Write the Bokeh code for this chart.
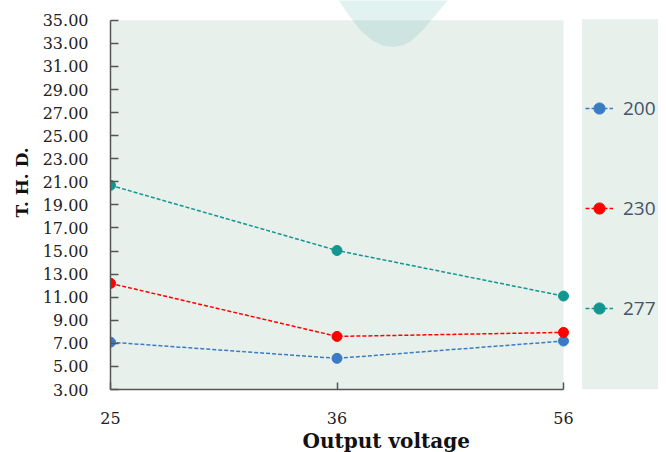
from bokeh.plotting import figure
from bokeh.models import (FixedTicker, Legend, LegendItem, Title, PolyAnnotation, BoxAnnotation,
                          Range1d, NumeralTickFormatter)
from bokeh.embed import file_html
from bokeh.resources import INLINE

# ---- data ----
voltages = ["25", "36", "56"]
series_names = ["200", "230", "277"]
thd_200 = [7.1, 5.7, 7.2]
thd_230 = [12.2, 7.6, 7.95]
thd_277 = [20.7, 15.05, 11.1]
y_ticks = [3, 5, 7, 9, 11, 13, 15, 17, 19, 21, 23, 25, 27, 29, 31, 33, 35]
x_title = "Output voltage"
y_title = "T. H. D."

colors = ["#3b7bc4", "#ff0000", "#12968f"]
series = [thd_200, thd_230, thd_277]
xs = list(range(len(voltages)))

# frame is larger than the data area so that the legend and the top decoration fit in it
LEFT = 110
W, H = 658, 452
FRAME_H = 392
DATA_H = 372
FRAME_W = W - LEFT
DATA_W = 453
y0, y1 = y_ticks[0], y_ticks[-1]
y_top = y0 + (y1 - y0) * FRAME_H / DATA_H
x0, x1 = 0, len(voltages) - 1
x_right = x0 + (x1 - x0) * FRAME_W / DATA_W

p = figure(width=W, height=H, output_backend="svg", toolbar_location=None,
           x_range=Range1d(x0, x_right), y_range=Range1d(y0, y_top),
           min_border_left=LEFT, min_border_right=0, min_border_top=0,
           min_border_bottom=H - FRAME_H)
p.background_fill_color = "white"
p.border_fill_color = "white"
p.outline_line_color = None
p.grid.visible = False

# plot-area background (only the data area)
p.add_layout(BoxAnnotation(left=x0, right=x1, bottom=y0, top=y1, fill_color="#e8f0ec",
                           fill_alpha=1.0, line_color=None, level="underlay"))

# legend panel background (screen px relative to frame)
p.add_layout(BoxAnnotation(left=472, right=600, bottom=0.5, top=FRAME_H - 22,
                           left_units="screen", right_units="screen",
                           bottom_units="screen", top_units="screen",
                           fill_color="#e8f0ec", fill_alpha=1.0,
                           line_color="#d6e3ee", line_width=1, level="underlay"))

# decorative shape at top (page pixel outline)
shape_x = [330, 336, 350, 360, 372, 382, 392, 402, 410, 422, 433, 450, 458]
shape_y = [-10, 0, 20, 33, 43, 48, 49.5, 48, 44, 33, 20, 0, -10]
p.add_layout(PolyAnnotation(xs=[x - LEFT for x in shape_x], ys=[FRAME_H - y for y in shape_y],
                            xs_units="screen", ys_units="screen", level="underlay",
                            fill_color="#13968e", fill_alpha=0.12, line_color=None))

tick_font = "DejaVu Serif"
# x axis
xa = p.xaxis[0]
xa.ticker = FixedTicker(ticks=xs)
xa.bounds = (x0, x1)
xa.major_label_overrides = {i: v for i, v in zip(xs, voltages)}
xa.major_tick_in = 7
xa.major_tick_out = 0
xa.minor_tick_line_color = None
xa.axis_line_color = "#555555"
xa.axis_line_width = 1.5
xa.major_tick_line_color = "#555555"
xa.major_tick_line_width = 1.5
xa.major_label_standoff = 22
xa.major_label_text_font = tick_font
xa.major_label_text_font_size = "16px"
xa.major_label_text_color = "#222222"

# y axis
ya = p.yaxis[0]
ya.ticker = FixedTicker(ticks=y_ticks)
ya.bounds = (y0, y1)
ya.formatter = NumeralTickFormatter(format="0.00")
ya.major_tick_in = 8
ya.major_tick_out = 0
ya.minor_tick_line_color = None
ya.axis_line_color = "#555555"
ya.axis_line_width = 1.5
ya.major_tick_line_color = "#555555"
ya.major_tick_line_width = 1.5
ya.major_label_standoff = 22
ya.major_label_text_font = tick_font
ya.major_label_text_font_size = "16px"
ya.major_label_text_color = "#222222"

items = []
for name, vals, c in zip(series_names, series, colors):
    l = p.line(xs, vals, line_color=c, line_width=1.5, line_dash="4 2")
    s = p.scatter(xs, vals, size=10, fill_color=c, line_color=c)
    items.append(LegendItem(label=name, renderers=[l, s]))

legend = Legend(items=items, location=(475, 31), padding=5, spacing=0,
                glyph_height=100, glyph_width=28, label_height=20, label_standoff=10,
                label_text_font="Open Sans", label_text_font_size="19px",
                label_text_color="#44546a", background_fill_alpha=0.0,
                border_line_color=None, margin=0)
p.add_layout(legend)

p.add_layout(Title(text=x_title, align="left", offset=192, text_font="DejaVu Serif",
                   text_font_style="bold", text_font_size="20px", text_color="#111111",
                   standoff=0), "below")
p.add_layout(Title(text=y_title, align="left", offset=172, text_font="DejaVu Serif",
                   text_font_style="bold", text_font_size="17px", text_color="#111111",
                   standoff=16), "left")

open("out.html", "w").write(file_html(p, INLINE))
